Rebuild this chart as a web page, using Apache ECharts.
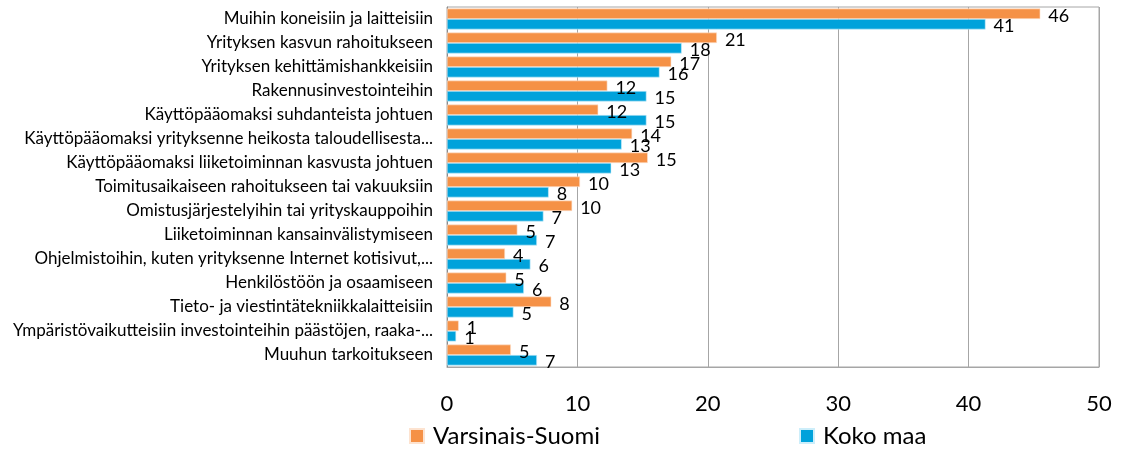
<!DOCTYPE html>
<html>
<head>
<meta charset="utf-8">
<script src="https://cdn.jsdelivr.net/npm/echarts@6/dist/echarts.min.js"></script>
<style>html,body{margin:0;padding:0;background:#fff;}#c{width:1127px;height:450px;}</style>
</head>
<body>
<div id="c"></div>
<script>
const categories = [
  "Muihin koneisiin ja laitteisiin",
  "Yrityksen kasvun rahoitukseen",
  "Yrityksen kehittämishankkeisiin",
  "Rakennusinvestointeihin",
  "Käyttöpääomaksi suhdanteista johtuen",
  "Käyttöpääomaksi yrityksenne heikosta taloudellisesta...",
  "Käyttöpääomaksi liiketoiminnan kasvusta johtuen",
  "Toimitusaikaiseen rahoitukseen tai vakuuksiin",
  "Omistusjärjestelyihin tai yrityskauppoihin",
  "Liiketoiminnan kansainvälistymiseen",
  "Ohjelmistoihin, kuten yrityksenne Internet kotisivut,...",
  "Henkilöstöön ja osaamiseen",
  "Tieto- ja viestintätekniikkalaitteisiin",
  "Ympäristövaikutteisiin investointeihin päästöjen, raaka-...",
  "Muuhun tarkoitukseen"
];
const varsinaisSuomi = [45.5, 20.7, 17.2, 12.3, 11.6, 14.2, 15.4, 10.2, 9.6, 5.4, 4.45, 4.55, 8.0, 0.9, 4.9];
const kokoMaa = [41.3, 18.0, 16.3, 15.3, 15.3, 13.4, 12.6, 7.8, 7.4, 6.9, 6.4, 5.9, 5.1, 0.7, 6.9];
const xTicks = [0, 10, 20, 30, 40, 50];
const seriesNames = ["Varsinais-Suomi", "Koko maa"];

const FONT = "Lato";
const chart = echarts.init(document.getElementById('c'), null, {renderer: 'canvas'});
const labelCfg = {
  show: true, position: 'right', distance: 8, color: '#000',
  fontFamily: FONT, fontSize: 18, offset: [0, 2],
  formatter: p => Math.round(p.value)
};
const legendText = {fontFamily: FONT, fontSize: 24, color: '#000', lineHeight: 24, padding: [0, 0, 0, 4]};
chart.setOption({
  animation: false,
  textStyle: {fontFamily: FONT},
  grid: {left: 447, right: 28, top: 7, bottom: 83, show: true, borderColor: '#a6a6a6', borderWidth: 1,
         containLabel: false, outerBoundsMode: 'none'},
  legend: [
    {data: [seriesNames[0]], left: 409, top: 424, padding: 0, itemWidth: 14, itemHeight: 14, itemGap: 0,
     icon: 'rect', textStyle: legendText},
    {data: [seriesNames[1]], left: 799, top: 424, padding: 0, itemWidth: 14, itemHeight: 14, itemGap: 0,
     icon: 'rect', textStyle: legendText}
  ],
  xAxis: {
    type: 'value', min: xTicks[0], max: xTicks[xTicks.length-1], interval: 10,
    axisLine: {show: true, lineStyle: {color: '#a6a6a6'}},
    axisTick: {show: false},
    splitLine: {show: true, lineStyle: {color: '#a6a6a6', width: 1}},
    axisLabel: {color: '#000', fontFamily: FONT, fontSize: 22, margin: 26}
  },
  yAxis: {
    type: 'category', data: categories, inverse: true,
    axisLine: {show: true, lineStyle: {color: '#8c8c8c'}},
    axisTick: {show: false},
    axisLabel: {color: '#000', fontFamily: FONT, fontSize: 17, margin: 14}
  },
  series: [
    {name: seriesNames[0], type: 'bar', data: varsinaisSuomi, barGap: '0%', barCategoryGap: '13%',
     itemStyle: {color: '#F59146', borderColor: '#fde3d0', borderWidth: 0.6}, label: labelCfg},
    {name: seriesNames[1], type: 'bar', data: kokoMaa, barGap: '0%', barCategoryGap: '13%',
     itemStyle: {color: '#00A2DB', borderColor: '#cdeefa', borderWidth: 0.6}, label: labelCfg}
  ]
});
</script>
</body>
</html>
